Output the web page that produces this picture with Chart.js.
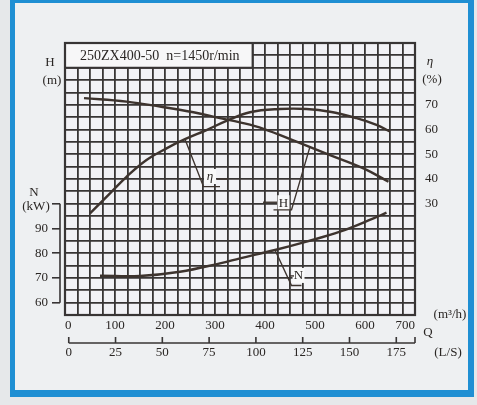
<!DOCTYPE html>
<html><head><meta charset="utf-8">
<script src="https://cdn.jsdelivr.net/npm/chart.js@4.4.0/dist/chart.umd.min.js"></script>
<style>
html,body{margin:0;padding:0;background:#e6e8ea;}
#wrap{position:relative;width:477px;height:405px;overflow:hidden;background:#e6e8ea;}
#frame{position:absolute;left:10px;top:0;width:464px;height:397px;box-sizing:border-box;
  border-left:5px solid #1f8fd3;border-top:3px solid #1f8fd3;border-right:6px solid #1f8fd3;border-bottom:7px solid #1f8fd3;background:#eef0f2;}
canvas{position:absolute;left:0;top:0;}
</style></head>
<body>
<div id="wrap"><div id="frame"></div><canvas id="c" width="477" height="405"></canvas></div>
<script>
// ---- data ----
const Q_H = [38, 123, 190, 257, 310, 350, 397, 463, 530, 597, 647];
const H_VALUES = [62.7, 61.3, 59.3, 57.0, 54.6, 52.9, 50.3, 45.1, 39.7, 34.3, 28.9];
const Q_ETA = [50, 90, 123, 163, 203, 240, 283, 323, 370, 430, 483, 530, 583, 623, 650];
const ETA_VALUES = [26.1, 34.2, 40.9, 47.7, 52.4, 56.1, 59.8, 63.5, 67.0, 68.3, 68.3, 67.2, 64.6, 61.9, 59.2];
const Q_N = [70, 150, 230, 310, 350, 420, 483, 550, 617, 643];
const N_VALUES = [70.9, 70.8, 72.5, 75.9, 77.9, 81.3, 84.7, 88.7, 94.1, 96.4];

// ---- tick labels ----
const Q_TICKS = [0, 100, 200, 300, 400, 500, 600, 700];
const LS_TICKS = [0, 25, 50, 75, 100, 125, 150, 175];
const H_TICKS = [30, 40, 50, 60];
const N_TICKS = [60, 70, 80, 90];
const ETA_TICKS = [30, 40, 50, 60, 70];
const N_BRACKET_TOP = 100;
const TITLE = '250ZX400-50  n=1450r/min';

// ---- curve label leaders (data units) ----
const ETA_LEADER = [[240, 56.1], [277, 36.9], [310, 36.9]];
const ETA_LABEL = [290, 40.8];
const ETA_DASH = [[304, 40.0], [326, 40.0]];
const H_LEADER = [[490, 43.1], [453, 17.5], [417, 17.5]];
const H_LABEL = [437, 20.2];
const H_DASH = [[396, 20.6], [424, 20.6]];
const N_LEADER = [[420, 81.3], [453, 66.9], [473, 66.9]];
const N_LABEL = [467, 70.8];
const N_DASH = [[450, 70.8], [458, 70.8]];

const FONT = "'Liberation Serif','DejaVu Serif',serif";
const TXT = '#2a2624';
const GRID = '#383535';
const CURVE = '#3d332e';

function steps(a, b, s) { const r = []; for (let v = a; v <= b + 1e-9; v += s) r.push(v); return r; }

const deco = {
  id: 'deco',
  beforeDraw(chart) {
    const {ctx, chartArea: a} = chart;
    ctx.save(); ctx.fillStyle = '#f2f2f6';
    ctx.fillRect(a.left, a.top, a.right - a.left, a.bottom - a.top); ctx.restore();
  },
  beforeDatasetsDraw(chart) {
    const {ctx, scales} = chart;
    const x0 = scales.x.getPixelForValue(0), x1 = scales.x.getPixelForValue(375);
    const y0 = scales.yH.getPixelForValue(85), y1 = scales.yH.getPixelForValue(75);
    ctx.save();
    ctx.fillStyle = '#f7f7f8'; ctx.fillRect(x0, y0, x1 - x0, y1 - y0);
    ctx.strokeStyle = GRID; ctx.lineWidth = 1.8;
    ctx.beginPath(); ctx.moveTo(x1, y0); ctx.lineTo(x1, y1); ctx.lineTo(x0, y1); ctx.stroke();
    ctx.fillStyle = TXT; ctx.font = '14px ' + FONT; ctx.textBaseline = 'middle'; ctx.textAlign = 'left';
    ctx.fillText(TITLE, x0 + 15, (y0 + y1) / 2 + 1);
    ctx.restore();
  },
  afterDatasetsDraw(chart) {
    const {ctx, scales} = chart;
    const X = v => scales.x.getPixelForValue(v);
    function leader(pts, yS, label, txt, dash) {
      const Y = v => scales[yS].getPixelForValue(v);
      ctx.save();
      ctx.strokeStyle = CURVE; ctx.lineWidth = 1.4;
      const lx = X(label[0]), ly = Y(label[1]);
      ctx.fillStyle = '#f9f9fa'; ctx.fillRect(lx - 6, ly - 8, 12, 15);
      ctx.beginPath();
      pts.forEach((p, i) => { const px = X(p[0]), py = Y(p[1]); i ? ctx.lineTo(px, py) : ctx.moveTo(px, py); });
      ctx.stroke();
      ctx.beginPath(); ctx.moveTo(X(dash[0][0]), Y(dash[0][1])); ctx.lineTo(X(dash[1][0]), Y(dash[1][1])); ctx.stroke();
      ctx.fillStyle = TXT; ctx.font = (txt === 'η' ? 'italic ' : '') + '13px ' + FONT;
      ctx.textAlign = 'center'; ctx.textBaseline = 'middle';
      ctx.fillText(txt, lx, ly);
      ctx.restore();
    }
    leader(ETA_LEADER, 'yE', ETA_LABEL, 'η', ETA_DASH);
    leader(H_LEADER, 'yH', H_LABEL, 'H', H_DASH);
    leader(N_LEADER, 'yN', N_LABEL, 'N', N_DASH);
  },
  afterDraw(chart) {
    const {ctx, chartArea: a, scales} = chart;
    ctx.save();
    ctx.strokeStyle = GRID; ctx.lineWidth = 2.2;
    ctx.strokeRect(a.left, a.top, a.right - a.left, a.bottom - a.top);
    const nx = scales.yN.right;
    ctx.lineWidth = 1.6;
    ctx.beginPath();
    ctx.moveTo(nx, scales.yN.getPixelForValue(N_TICKS[0]));
    ctx.lineTo(nx, scales.yN.getPixelForValue(N_BRACKET_TOP));
    ctx.stroke();
    const ls = scales.xLS, ly = ls.top + 8;
    ctx.beginPath();
    ctx.moveTo(ls.getPixelForValue(0), ly); ctx.lineTo(ls.right, ly);
    LS_TICKS.forEach(v => { const px = ls.getPixelForValue(v); ctx.moveTo(px, ly); ctx.lineTo(px, ly - 6); });
    ctx.moveTo(ls.right, ly); ctx.lineTo(ls.right, ly - 6);
    ctx.stroke();
    ctx.fillStyle = TXT; ctx.font = '13px ' + FONT; ctx.textBaseline = 'middle'; ctx.textAlign = 'center';
    ctx.fillText('H', 50, 63); ctx.fillText('(m)', 52, 81);
    ctx.fillText('N', 34, 193); ctx.fillText('(kW)', 36, 207);
    ctx.fillText('(%)', 432, 80);
    ctx.fillText('(m³/h)', 450, 315);
    ctx.fillText('Q', 428, 333);
    ctx.fillText('(L/S)', 448, 353);
    ctx.font = 'italic 13px ' + FONT; ctx.fillText('η', 430, 62);
    ctx.restore();
  }
};

const tickFont = {family: FONT, size: 13};
function ds(xs, ys, axis) {
  return {data: xs.map((q, i) => ({x: q, y: ys[i]})), xAxisID: 'x', yAxisID: axis,
    borderColor: CURVE, borderWidth: 2.4, pointRadius: 0, fill: false, tension: 0.4};
}

new Chart(document.getElementById('c'), {
  type: 'line',
  data: {datasets: [ds(Q_H, H_VALUES, 'yH'), ds(Q_ETA, ETA_VALUES, 'yE'), ds(Q_N, N_VALUES, 'yN')]},
  options: {
    responsive: false, animation: false, devicePixelRatio: 1,
    layout: {padding: {left: 30, right: 32, top: 43, bottom: 40}},
    plugins: {legend: {display: false}, tooltip: {enabled: false}},
    scales: {
      x: {type: 'linear', position: 'bottom', min: 0, max: 700, weight: 0,
        afterBuildTicks: s => { s.ticks = steps(0, 700, 25).map(v => ({value: v})); },
        ticks: {autoSkip: false, maxRotation: 0, padding: 3, align: 'inner', font: tickFont, color: TXT,
          callback: v => Q_TICKS.includes(v) ? String(v) : ''},
        grid: {color: GRID, lineWidth: 1.8, drawTicks: false},
        border: {display: false},
        afterFit: s => { s.height = 20; }},
      xLS: {type: 'linear', position: 'bottom', min: -2, max: 185, weight: 1,
        afterBuildTicks: s => { s.ticks = LS_TICKS.map(v => ({value: v})); },
        ticks: {autoSkip: false, maxRotation: 0, padding: 10, font: tickFont, color: TXT},
        grid: {display: false, drawTicks: false},
        border: {display: false},
        afterFit: s => { s.height = 30; }},
      yH: {type: 'linear', position: 'left', min: -25, max: 85, weight: 0,
        afterBuildTicks: s => { s.ticks = steps(-25, 85, 5).map(v => ({value: v})); },
        ticks: {autoSkip: false, padding: 7, font: tickFont, color: TXT,
          callback: v => H_TICKS.includes(v) ? String(v) : ''},
        grid: {color: GRID, lineWidth: 1.8, drawTicks: false},
        border: {display: false},
        afterFit: s => { s.width = 5; }},
      yN: {type: 'linear', position: 'left', min: 55, max: 165, weight: 1,
        afterBuildTicks: s => { s.ticks = N_TICKS.concat([N_BRACKET_TOP]).map(v => ({value: v})); },
        ticks: {autoSkip: false, padding: 4, font: tickFont, color: TXT,
          callback: v => N_TICKS.includes(v) ? String(v) : ''},
        grid: {drawOnChartArea: false, drawTicks: true, tickLength: 8, color: GRID, lineWidth: 1.6},
        border: {display: false},
        afterFit: s => { s.width = 30; }},
      yE: {type: 'linear', position: 'right', min: -15, max: 95, weight: 0,
        afterBuildTicks: s => { s.ticks = ETA_TICKS.map(v => ({value: v})); },
        ticks: {autoSkip: false, padding: 10, font: tickFont, color: TXT},
        grid: {display: false, drawTicks: false},
        border: {display: false},
        afterFit: s => { s.width = 30; }}
    }
  },
  plugins: [deco]
});
</script>
</body></html>
